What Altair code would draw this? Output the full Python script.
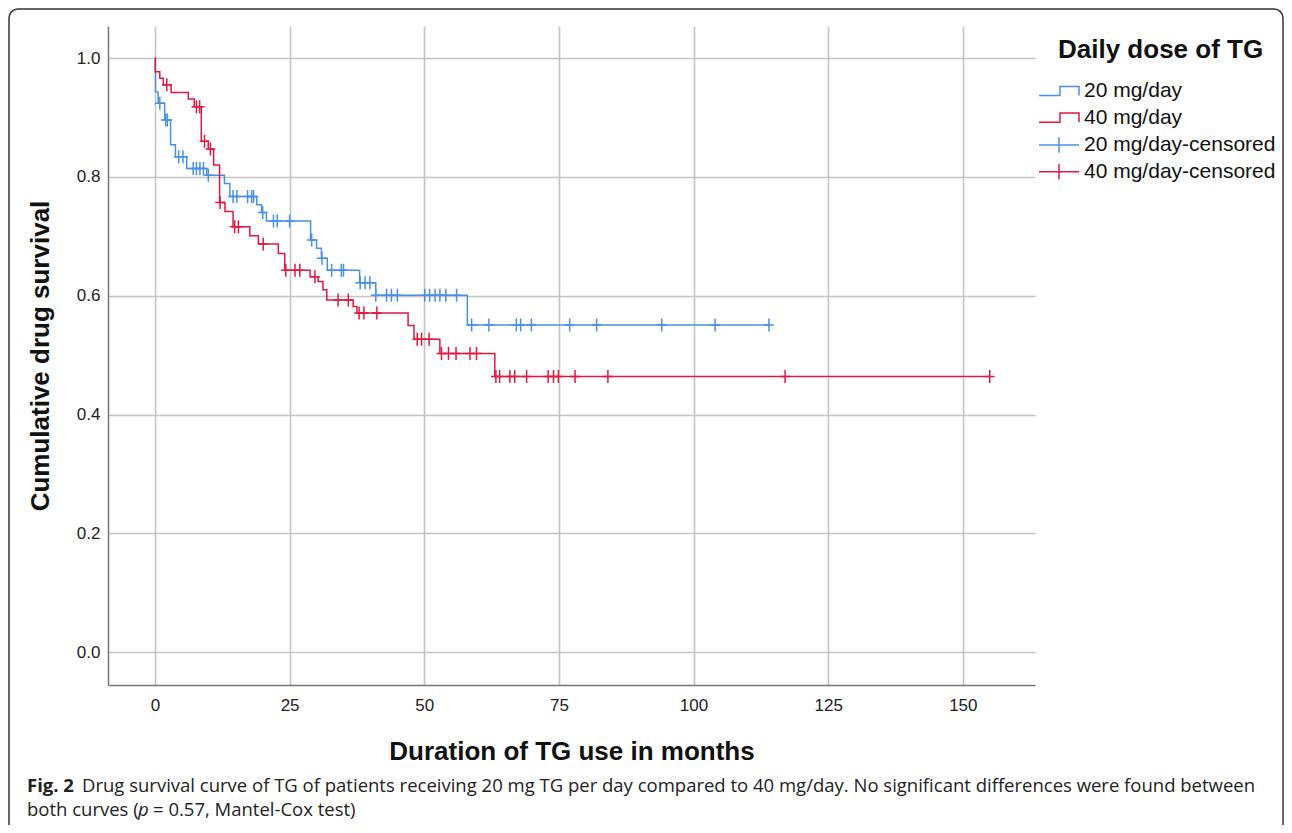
import altair as alt
import pandas as pd

# ---- data ----
labels = ["20 mg/day", "40 mg/day", "20 mg/day-censored", "40 mg/day-censored"]
colors = ["#4a90e2", "#e0193f", "#4a90e2", "#e0193f"]

# 20 mg/day: step times and cumulative survival after each step
t20 = [0, 0.1, 0.6, 1.8, 2.9, 3.8, 5.9, 9.6, 12.9, 13.9, 18.9, 19.8, 20.7,
       28.9, 30.0, 30.9, 32.0, 38.0, 41.0, 58.0, 114.0]
s20 = [1.0, 0.943, 0.924, 0.896, 0.854, 0.834, 0.814, 0.803, 0.789, 0.767,
       0.753, 0.740, 0.726, 0.694, 0.680, 0.663, 0.643, 0.622, 0.601, 0.551, 0.551]

# 40 mg/day
t40 = [0, 0.05, 0.9, 1.55, 3.0, 6.2, 7.3, 8.6, 9.9, 10.9, 12.0, 13.0, 14.5,
       17.6, 19.2, 22.9, 24.1, 28.8, 30.3, 31.2, 31.9, 36.8, 37.5, 47.0, 48.1,
       52.9, 63.1, 155.0]
s40 = [1.0, 0.977, 0.966, 0.955, 0.942, 0.931, 0.918, 0.860, 0.847, 0.820,
       0.757, 0.742, 0.716, 0.701, 0.687, 0.671, 0.643, 0.632, 0.624, 0.610,
       0.593, 0.582, 0.571, 0.550, 0.527, 0.503, 0.464, 0.464]

# censored observations: (survival level, [times])
cens20 = [
    (0.924, [0.9]), (0.896, [2.0, 2.3]), (0.834, [4.4, 5.2]),
    (0.814, [7.1, 7.7, 8.35, 9.0]), (0.803, [9.9]),
    (0.767, [14.5, 15.2, 17.2, 17.95, 18.3]), (0.740, [20.0]),
    (0.726, [22.0, 22.7, 25.0]), (0.694, [29.1]), (0.663, [31.0]),
    (0.643, [32.8, 34.6, 35.0]), (0.622, [38.1, 39.0, 39.9]),
    (0.601, [41.0, 43.0, 43.9, 45.0, 50.1, 51.0, 52.0, 52.9, 54.0, 56.0]),
    (0.551, [58.8, 62.0, 67.1, 67.9, 69.9, 77.0, 82.0, 94.1, 104.0, 114.0]),
]
cens40 = [
    (0.955, [2.2]), (0.918, [7.7, 8.3]), (0.860, [9.2]), (0.847, [10.3]),
    (0.757, [12.1]), (0.716, [14.8, 15.5]), (0.687, [20.1]),
    (0.643, [24.3, 26.0, 26.9]), (0.632, [29.7]), (0.593, [34.0, 35.9]),
    (0.571, [37.9, 38.8, 41.2]), (0.527, [48.7, 49.5, 50.9]),
    (0.503, [53.2, 54.5, 55.9, 58.5, 59.7]),
    (0.464, [63.3, 64.0, 65.9, 66.8, 69.0, 73.0, 74.0, 74.9, 78.0, 84.1, 117.0, 155.0]),
]

x_ticks = [0, 25, 50, 75, 100, 125, 150]
y_ticks = [0.0, 0.2, 0.4, 0.6, 0.8, 1.0]

legend_title = "Daily dose of TG"
caption1_bold = "Fig. 2"
caption1 = ("Drug survival curve of TG of patients receiving 20 mg TG per day compared "
            "to 40 mg/day. No significant differences were found between")
caption2a = "both curves ("
caption2b = "p"
caption2c = "= 0.57, Mantel-Cox test)"

# ---- tables ----
lines_df = pd.DataFrame(
    [{"t": t, "s": s, "label": labels[0]} for t, s in zip(t20, s20)]
    + [{"t": t, "s": s, "label": labels[1]} for t, s in zip(t40, s40)]
)
cens_df = pd.DataFrame(
    [{"t": t, "s": lvl, "label": labels[2]} for lvl, ts in cens20 for t in ts]
    + [{"t": t, "s": lvl, "label": labels[3]} for lvl, ts in cens40 for t in ts]
)

FONT = "Liberation Sans, Arial, sans-serif"
CAP_FONT = "Open Sans, Liberation Sans, sans-serif"
W, H = 927, 659

x_axis = alt.Axis(values=x_ticks, title="Duration of TG use in months", format="d",
                  labelFontSize=17, labelPadding=12, ticks=False, tickSize=0,
                  titleFontSize=26, titleFontWeight="bold", titleY=66,
                  titleBaseline="middle", titleColor="#111")
y_axis = alt.Axis(values=y_ticks, title="Cumulative drug survival", format=".1f",
                  labelFontSize=17, labelPadding=8, ticks=False, tickSize=0,
                  titleFontSize=26, titleFontWeight="bold", titleX=-68,
                  titleY=H / 2, titleBaseline="middle", titleAlign="center",
                  titleAngle=270, titleColor="#111")
x_enc = alt.X("t:Q", scale=alt.Scale(domain=[-8.72, 163.4], nice=False, zero=False), axis=x_axis)
y_enc = alt.Y("s:Q", scale=alt.Scale(domain=[-0.055, 1.054], nice=False, zero=False), axis=y_axis)

STEP_LEG = "M-1,0.23L0.05,0.23L0.05,-0.23L1,-0.23L1,0.23"
PLUS_LEG = "M-1,0L1,0M0,-0.39L0,0.39"
PLUS = "M0,-1L0,1M-0.75,0L0.75,0"

leg_common = dict(orient="none", legendX=930, labelFontSize=21, labelColor="#111",
                  labelFont=FONT, labelLimit=400, symbolSize=1600, symbolStrokeWidth=1.5,
                  clipHeight=16, rowPadding=5.7, labelOffset=4, padding=0,
                  symbolFillColor="transparent")

curves = alt.Chart(lines_df).mark_line(interpolate="step-after", strokeWidth=1.5).encode(
    x=x_enc, y=y_enc,
    color=alt.Color("label:N", scale=alt.Scale(domain=labels[:2], range=colors[:2]),
                    legend=alt.Legend(title=None, legendY=57, symbolType=STEP_LEG,
                                      **leg_common)),
)
censored = alt.Chart(cens_df).mark_point(shape=PLUS, size=169, filled=False,
                                         strokeWidth=1.5, opacity=1).encode(
    x=x_enc, y=y_enc,
    color=alt.Color("label:N", scale=alt.Scale(domain=labels[2:], range=colors[2:]),
                    legend=alt.Legend(title=None, legendY=111, symbolType=PLUS_LEG,
                                      **leg_common)),
)

one = alt.Data(values=[{"k": 1}])
frame = alt.Chart(one).mark_rect(fill="transparent", stroke="#333", strokeWidth=1.5,
                                 cornerRadius=9).encode(
    x=alt.value(-99), x2=alt.value(1175), y=alt.value(-17), y2=alt.value(815))


def txt(text, x, y, size=18.5, col="#222", font=CAP_FONT, **kw):
    return alt.Chart(one).mark_text(text=text, align="left", baseline="middle",
                                    font=font, fontSize=size, color=col, **kw).encode(
        x=alt.value(x), y=alt.value(y))


leg_title = txt(legend_title, 950, 24, size=26, col="#111", font=FONT, fontWeight="bold")

cap = (txt(caption1_bold, -81, 760, fontWeight="bold")
       + txt(caption1, -26, 760)
       + txt(caption2a, -81, 784)
       + txt(caption2b, 30, 784, fontStyle="italic")
       + txt(caption2c, 45, 784))

chart = alt.layer(frame, curves, censored, leg_title, cap).resolve_scale(
    color="independent").resolve_legend(color="independent").properties(
    width=W, height=H,
    autosize=alt.AutoSizeParams(type="none"),
    padding={"left": 100, "top": 18, "right": 249, "bottom": 140},
).configure(font=FONT).configure_view(stroke=None).configure_axis(
    grid=True, gridColor="#c4c4c4", gridWidth=1.6,
    domainColor="#777", domainWidth=1.5, labelColor="#222", labelFont=FONT, titleFont=FONT,
)

chart.save("out.html", embed_options={"renderer": "svg", "actions": False})
